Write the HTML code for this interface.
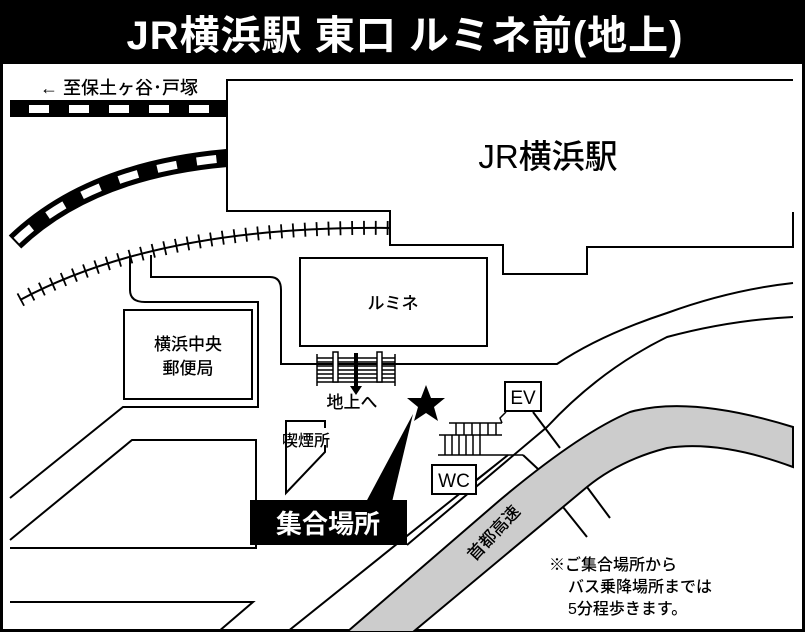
<!DOCTYPE html>
<html><head><meta charset="utf-8"><style>
html,body{margin:0;padding:0;background:#fff}
svg{display:block}
text{font-family:"Liberation Sans","Noto Sans CJK JP",sans-serif;font-weight:500}
</style></head><body>
<svg width="805" height="632" viewBox="0 0 805 632" xmlns="http://www.w3.org/2000/svg">
<rect x="0" y="0" width="805" height="632" fill="#000"/>
<rect x="3" y="64" width="799" height="565" fill="#fff"/>
<text x="405" y="49" text-anchor="middle" fill="#fff" font-size="40" font-weight="bold" style="font-weight:bold" letter-spacing="1">JR横浜駅 東口 ルミネ前(地上)</text>

<g fill="none" stroke="#000" stroke-width="2">
<path d="M793,80 H227 V211 H390 V245 H503 V274 H587 V247 H793 V212"/>
<rect x="300" y="258" width="187" height="88"/>
<rect x="124" y="310" width="128" height="89"/>
<path d="M130,255 V290 Q130,302 145,302 H258 V407 H123 L10,498"/>
<path d="M151,255 V277 H270 Q281,277 281,290 V364 H557 Q600,335 667,313 Q730,290 793,283"/>
<path d="M10,540 L132,440 H256 V548 H10"/>
<path d="M10,602 H253 L218,632"/>
<path d="M407,545 L547,427 Q600,370 667,337 Q730,320 793,317"/>
<path d="M287,632 L508,455"/>
<path d="M533,412 L560,448 M587,487 L610,518"/>
<path d="M523,455 L538,469 M563,507 L587,537"/>
<path d="M286,428 V421 H325 V428 M286,421 V493 L325,452 V445"/>
</g>

<path d="M347,632 L500,500 Q580,433 630,412 Q690,395 793,427 L793,467 Q720,440 667,448 Q620,460 587,487 L413,632 Z" fill="#ccc" stroke="#000" stroke-width="2"/>
<text x="0" y="0" font-size="17" transform="translate(498,537) rotate(-47)" text-anchor="middle">首都高速</text>

<rect x="10" y="100" width="217" height="17" fill="#000"/>
<g fill="#fff"><rect x="29" y="105" width="20" height="8"/><rect x="69" y="105" width="20" height="8"/><rect x="109" y="105" width="20" height="8"/><rect x="149" y="105" width="20" height="8"/><rect x="189" y="105" width="20" height="8"/></g>
<text x="40" y="94" font-size="18">← 至保土ヶ谷･戸塚</text>
<path d="M15,242 Q90,170 227,158" fill="none" stroke="#000" stroke-width="18"/>
<path d="M15,242 Q90,170 227,158" fill="none" stroke="#fff" stroke-width="8" stroke-dasharray="20 20" stroke-dashoffset="-2"/>
<path d="M20,300 Q160,225 390,228" fill="none" stroke="#000" stroke-width="2"/>
<path d="M20,300 Q160,225 390,228" fill="none" stroke="#000" stroke-width="14" stroke-dasharray="1.8 10"/>

<text x="548" y="168" font-size="33" text-anchor="middle">JR横浜駅</text>
<text x="393" y="309" font-size="17" text-anchor="middle">ルミネ</text>
<text x="188" y="350" font-size="17" text-anchor="middle">横浜中央</text>
<text x="188" y="374" font-size="17" text-anchor="middle">郵便局</text>

<g stroke="#000" stroke-width="1.5" fill="none">
<path d="M317,358 H395 M317,362 H395 M317,366 H395 M317,370 H395 M317,374 H395 M317,378 H395 M317,382 H395"/>
<path d="M317,354 V386 M395,354 V386"/>
</g>
<rect x="333" y="352" width="5" height="30" fill="#fff" stroke="#000" stroke-width="1.5"/>
<rect x="377" y="352" width="5" height="30" fill="#fff" stroke="#000" stroke-width="1.5"/>
<path d="M354,353 H358 V386 H362 L356,395 L350,386 H354 Z" fill="#000"/>
<text x="352" y="408" font-size="17" text-anchor="middle">地上へ</text>
<text x="306" y="446" font-size="16" text-anchor="middle">喫煙所</text>

<g stroke="#000" stroke-width="1.5" fill="none">
<path d="M449,423 H502 M439,435 H502 M438,455 H523"/>
<path d="M456,423 V435 M464,423 V435 M472,423 V435 M480,423 V435 M488,423 V435 M496,423 V435"/>
<path d="M445,435 V455 M452,435 V455 M459,435 V455 M466,435 V455 M473,435 V455 M480,435 V455"/>
<path d="M502,423 L500,418 L506,412"/>
<path d="M476,480 L508,455"/>
</g>
<rect x="505" y="382" width="36" height="29" fill="#fff" stroke="#000" stroke-width="2"/>
<text x="523" y="404" font-size="19" text-anchor="middle">EV</text>
<rect x="432" y="465" width="44" height="29" fill="#fff" stroke="#000" stroke-width="2"/>
<text x="454" y="487" font-size="19" text-anchor="middle">WC</text>

<path d="M413,414 L366,502 L392,502 Z" fill="#000"/>
<polygon points="426,385 431,398 445,398 434,407 438,421 426,413 414,421 418,407 407,398 421,398" fill="#000"/>
<rect x="250" y="500" width="157" height="45" fill="#000"/>
<text x="328" y="533" font-size="26" style="font-weight:bold" fill="#fff" text-anchor="middle">集合場所</text>

<text x="549" y="570" font-size="16">※ご集合場所から</text>
<text x="568" y="592" font-size="16">バス乗降場所までは</text>
<text x="568" y="614" font-size="16">5分程歩きます。</text>
</svg>
</body></html>
